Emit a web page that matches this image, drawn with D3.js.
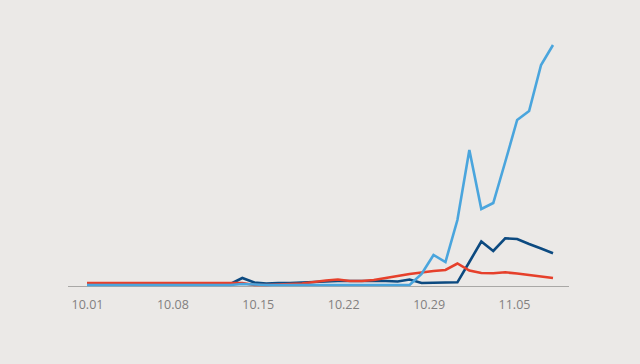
<!DOCTYPE html>
<html><head><meta charset="utf-8">
<script src="https://cdn.jsdelivr.net/npm/d3@7"></script>
<style>
html,body{margin:0;padding:0;background:#ebe9e7;}
svg{display:block;}
</style></head>
<body>
<svg id="chart" width="640" height="364"></svg>
<script>
const dates = ["10.01","10.02","10.03","10.04","10.05","10.06","10.07","10.08","10.09","10.10",
"10.11","10.12","10.13","10.14","10.15","10.16","10.17","10.18","10.19","10.20",
"10.21","10.22","10.23","10.24","10.25","10.26","10.27","10.28","10.29","10.30",
"10.31","11.01","11.02","11.03","11.04","11.05","11.06","11.07","11.08","11.09"];
const tickLabels = ["10.01","10.08","10.15","10.22","10.29","11.05"];
const lightBlue = [0,0,0,0,0,0,0,0,0,0, 0,0,0,1,0.5,0,0,0,0,0, 0,0,0,0,0,0,0,0,11,30, 23,65,135,76,82,123,165,174,220,240];
const darkBlue = [1,1,1,1,1,1,1,1,1,1, 1,1,1,7,2.5,1.5,2,2,2.5,3, 3.5,4,4,4,4,4,3.5,5.5,2,2.2, 2.5,2.7,23,43.5,34,46.7,46,41,36.5,31.7];
const red = [2,2,2,2,2,2,2,2,2,2, 2,2,2,2,0,0,0.5,1,1.5,3, 4.5,5.5,4,4,5,7,9,11,12.5,14, 15,21.5,14.5,12,11.7,12.7,11.5,10,8.5,7];

const svg = d3.select("#chart");
const x = d3.scalePoint().domain(dates).range([87, 553]);
const xLabels = d3.scalePoint().domain(tickLabels).range([87, 514]);
const y = d3.scaleLinear().domain([0, 240]).range([285, 45]);

// baseline
svg.append("line").attr("x1", 68).attr("x2", 569)
  .attr("y1", y(0) + 1.5).attr("y2", y(0) + 1.5)
  .attr("stroke", "#a9a8a6").attr("stroke-width", 1.2);

const axis = d3.axisBottom(xLabels).tickSize(0).tickPadding(0);
const g = svg.append("g").attr("transform", `translate(0,${y(0) + 1.5})`).call(axis);
g.select(".domain").remove();
g.selectAll("text").attr("dy", null).attr("y", 22).attr("fill", "#82807f")
  .style("font-family", "'Open Sans', 'Noto Sans', sans-serif").style("font-size", "12.5px");

const line = d3.line().x((d, i) => x(dates[i])).y(d => y(d));
const series = [
  {values: darkBlue, color: "#0c4a80"},
  {values: red, color: "#e6402b"},
  {values: lightBlue, color: "#4aa5dd"}
];
svg.selectAll("path.series").data(series).enter().append("path")
  .attr("class", "series")
  .attr("d", d => line(d.values))
  .attr("fill", "none")
  .attr("stroke", d => d.color)
  .attr("stroke-width", 2.6)
  .attr("stroke-linejoin", "miter");
</script>
</body></html>
